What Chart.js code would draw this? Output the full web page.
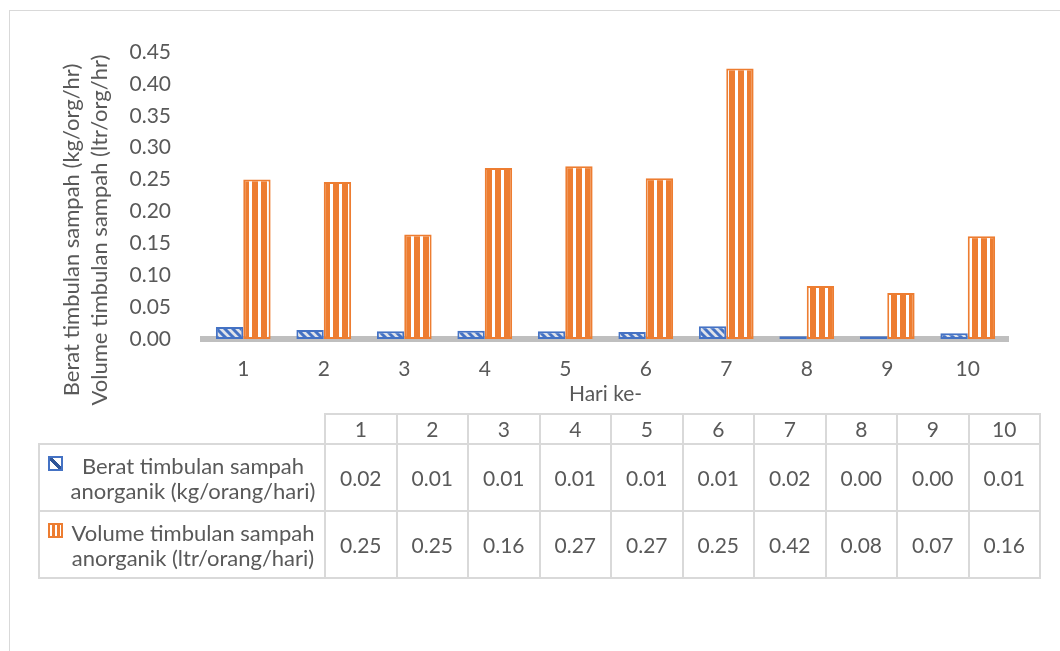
<!DOCTYPE html>
<html>
<head>
<meta charset="utf-8">
<script src="https://cdn.jsdelivr.net/npm/chart.js@4.4.1/dist/chart.umd.min.js"></script>
<style>
  html, body { margin: 0; padding: 0; background: #fff; }
  body { width: 1060px; height: 651px; position: relative; overflow: hidden; font-family: Lato, "Open Sans", sans-serif; color: #595959; }
  #frame { position: absolute; left: 9px; top: 10px; width: 1100px; height: 700px; border: 1px solid #d9d9d9; box-sizing: border-box; }
  #chart { position: absolute; left: 0; top: 0; }
  #dataTable { position: absolute; left: 38px; top: 413px; border-collapse: collapse; font-size: 21px; color: #595959; }
  #dataTable td { border: 2px solid #d9d9d9; text-align: center; padding: 0; }
  #dataTable tr.head td { height: 28px; line-height: 26px; }
  #dataTable tr.head td.blank { border: none; border-bottom: 2px solid #d9d9d9; }
  #dataTable tr.row td { height: 65px; }
  #dataTable td.num { width: 69.5px; }
  #dataTable td.label { width: 284px; position: relative; line-height: 25px; font-size: 22px; }
  #dataTable td.label span.txt { display: block; padding-left: 22px; white-space: nowrap; }
  .key { position: absolute; left: 8px; width: 15px; height: 15px; box-sizing: border-box; }
  .key.blue { top: 11px; border: 2px solid #4472c4; background: linear-gradient(45deg, #ffffff 0 38%, #2f5597 38% 62%, #ffffff 62% 100%); }
  .key.orange { top: 11px; border: 2px solid #ed7d31; background: repeating-linear-gradient(90deg, #ffffff 0 2px, #ed7d31 2px 5px); }
</style>
</head>
<body>
<div id="frame"></div>
<canvas id="chart" width="1060" height="651"></canvas>
<table id="dataTable"></table>
<script>
// Days of observation
const days = ['1', '2', '3', '4', '5', '6', '7', '8', '9', '10'];

// Series names as shown in the data table
const seriesBerat = 'Berat timbulan sampah anorganik (kg/orang/hari)';
const seriesVolume = 'Volume timbulan sampah anorganik (ltr/orang/hari)';

// Inorganic waste weight, kg per person per day
const beratValues = [0.019, 0.014, 0.012, 0.013, 0.012, 0.011, 0.020, 0.0045, 0.0045, 0.009];

// Inorganic waste volume, litres per person per day
const volumeValues = [0.250, 0.246, 0.164, 0.268, 0.271, 0.252, 0.424, 0.083, 0.072, 0.161];

// Value axis ticks
const yTickValues = [0.00, 0.05, 0.10, 0.15, 0.20, 0.25, 0.30, 0.35, 0.40, 0.45];

const yTitleLines = ['Berat timbulan sampah (kg/org/hr)', 'Volume timbulan sampah (ltr/org/hr)'];
const xTitle = 'Hari ke-';

const FONT = 'Lato, "Open Sans", sans-serif';
const TEXT = '#595959';
const BLUE = '#4472c4';
const ORANGE = '#ed7d31';

// Fill patterns for the two series
function stripePattern(kind) {
  const c = document.createElement('canvas');
  const ctx = c.getContext('2d');
  if (kind === 'vertical') {
    c.width = 9; c.height = 10;
    ctx.fillStyle = '#ffffff';
    ctx.fillRect(0, 0, 9, 10);
    ctx.fillStyle = ORANGE;
    ctx.fillRect(0, 0, 6, 10);
  } else {
    c.width = 8; c.height = 8;
    ctx.fillStyle = '#dfe3ea';
    ctx.fillRect(0, 0, 8, 8);
    ctx.strokeStyle = BLUE;
    ctx.lineWidth = 3;
    ctx.beginPath();
    ctx.moveTo(-2, -2); ctx.lineTo(10, 10);
    ctx.moveTo(-6, 2); ctx.lineTo(2, 10);
    ctx.moveTo(6, -2); ctx.lineTo(10, 2);
    ctx.stroke();
  }
  return ctx.createPattern(c, 'repeat');
}

// Two-line rotated value-axis title
const yTitlePlugin = {
  id: 'yTitle',
  afterDraw(chart) {
    const ctx = chart.ctx;
    ctx.save();
    ctx.fillStyle = TEXT;
    ctx.font = '22px ' + FONT;
    ctx.textAlign = 'center';
    ctx.textBaseline = 'middle';
    const xs = [72, 100];
    yTitleLines.forEach((line, i) => {
      ctx.save();
      ctx.translate(xs[i], 230);
      ctx.rotate(-Math.PI / 2);
      ctx.fillText(line, 0, 0);
      ctx.restore();
    });
    ctx.restore();
  }
};

new Chart(document.getElementById('chart'), {
  type: 'bar',
  data: {
    labels: days,
    datasets: [
      {
        label: seriesBerat,
        data: beratValues,
        backgroundColor: stripePattern('diagonal'),
        borderColor: BLUE,
        borderWidth: 2,
        borderSkipped: false,
        categoryPercentage: 0.68,
        barPercentage: 1.0
      },
      {
        label: seriesVolume,
        data: volumeValues,
        backgroundColor: stripePattern('vertical'),
        borderColor: ORANGE,
        borderWidth: 2,
        borderSkipped: false,
        categoryPercentage: 0.68,
        barPercentage: 1.0
      }
    ]
  },
  options: {
    responsive: false,
    animation: false,
    layout: { padding: { left: 0, top: 52, right: 52, bottom: 242 } },
    plugins: {
      legend: { display: false },
      tooltip: { enabled: false }
    },
    scales: {
      x: {
        offset: true,
        grid: { display: false, drawTicks: false },
        border: { display: true, color: '#bfbfbf', width: 6 },
        ticks: { color: TEXT, font: { family: FONT, size: 21 }, padding: 18 },
        title: { display: true, text: xTitle, color: TEXT, font: { family: FONT, size: 21 }, padding: { top: 0, bottom: 2 } },
        afterFit(scale) { scale.height = 70; }
      },
      y: {
        min: 0,
        max: 0.45,
        afterBuildTicks(scale) { scale.ticks = yTickValues.map(v => ({ value: v })); },
        grid: { display: false, drawTicks: false },
        border: { display: false },
        ticks: {
          color: TEXT,
          font: { family: FONT, size: 21 },
          padding: 32,
          callback: v => Number(v).toFixed(2)
        },
        afterFit(scale) { scale.width = 203; }
      }
    }
  },
  plugins: [yTitlePlugin]
});

// Data table under the chart, built from the same arrays
(function buildTable() {
  const t = document.getElementById('dataTable');
  let html = '<tr class="head"><td class="blank"></td>';
  days.forEach(d => { html += '<td class="num">' + d + '</td>'; });
  html += '</tr>';
  const rows = [
    { key: 'blue', name: ['Berat timbulan sampah', 'anorganik (kg/orang/hari)'], values: beratValues },
    { key: 'orange', name: ['Volume timbulan sampah', 'anorganik (ltr/orang/hari)'], values: volumeValues }
  ];
  rows.forEach(r => {
    html += '<tr class="row"><td class="label"><span class="key ' + r.key + '"></span><span class="txt">' +
      r.name.join('<br>') + '</span></td>';
    r.values.forEach(v => { html += '<td class="num">' + v.toFixed(2) + '</td>'; });
    html += '</tr>';
  });
  t.innerHTML = html;
})();
</script>
</body>
</html>
